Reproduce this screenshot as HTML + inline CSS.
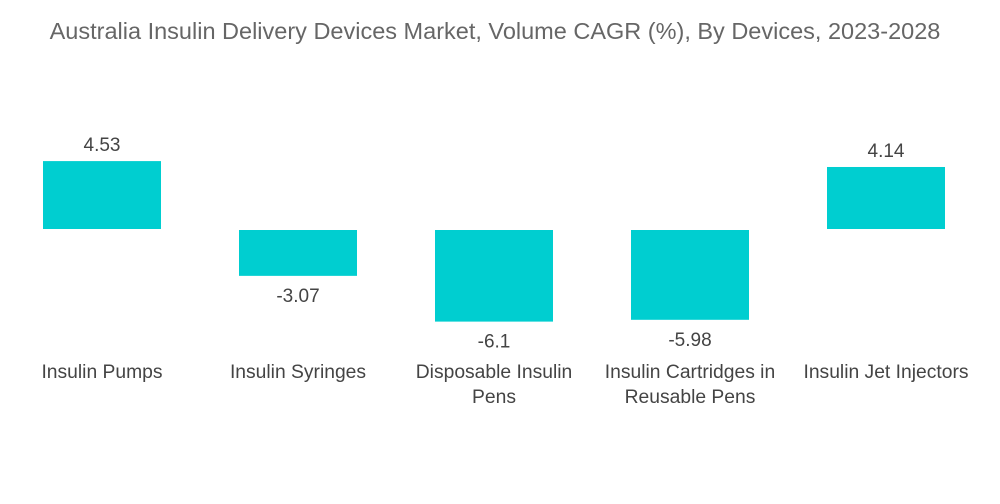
<!DOCTYPE html>
<html><head><meta charset="utf-8"><style>
body{margin:0;background:#fff;font-family:"Liberation Sans",sans-serif}
svg{display:block}
</style></head><body>
<svg width="1000" height="504">
<text x="495" y="39" text-anchor="middle" font-size="23.5" fill="#666">Australia Insulin Delivery Devices Market, Volume CAGR (%), By Devices, 2023-2028</text>
<g id="bars"></g>
</svg>
<script>
const categories=[["Insulin Pumps"],["Insulin Syringes"],["Disposable Insulin","Pens"],["Insulin Cartridges in","Reusable Pens"],["Insulin Jet Injectors"]];
const values=[4.53,-3.07,-6.1,-5.98,4.14];
const valueLabels=["4.53","-3.07","-6.1","-5.98","4.14"];
const ns="http://www.w3.org/2000/svg";
const g=document.getElementById('bars');
const zeroY=229.5, scale=15.1, x0=102, step=196, bw=118;
function xPos(i){return x0+i*step;}
function yPos(v){return zeroY-v*scale;}
values.forEach((v,i)=>{
  const cx=xPos(i);
  const r=document.createElementNS(ns,'rect');
  
  
  const y1=v>=0?yPos(v):zeroY+0.5, y2=v>=0?zeroY-0.5:yPos(v);
  r.setAttribute('x',cx-bw/2);r.setAttribute('y',y1);
  r.setAttribute('width',bw);r.setAttribute('height',y2-y1);
  r.setAttribute('fill','#00CED0');
  g.appendChild(r);
  const t=document.createElementNS(ns,'text');
  
  
  t.setAttribute('x',cx);
  t.setAttribute('y',v>=0?yPos(v)-10:yPos(v)+26);
  t.setAttribute('text-anchor','middle');t.setAttribute('font-size','19');t.setAttribute('fill','#444');
  t.textContent=valueLabels[i];
  g.appendChild(t);
  categories[i].forEach((line,j)=>{
    const c=document.createElementNS(ns,'text');
    
    
    c.setAttribute('x',cx);c.setAttribute('y',378+j*25);
    c.setAttribute('text-anchor','middle');c.setAttribute('font-size','19.3');c.setAttribute('fill','#444');
    c.textContent=line;
    g.appendChild(c);
  });
});
</script>
</body></html>
